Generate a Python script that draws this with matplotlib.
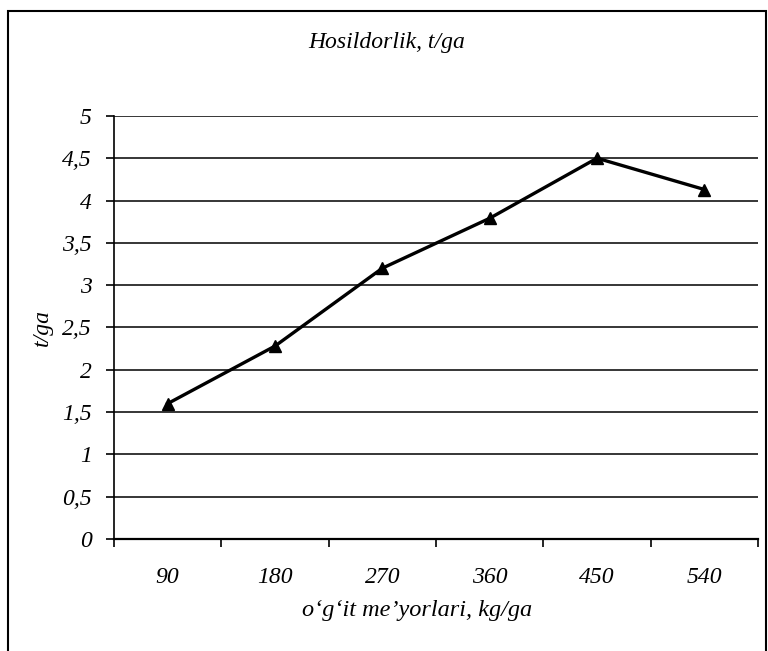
import matplotlib.pyplot as plt
from matplotlib.patches import Rectangle
import numpy as np

doses = ['90', '180', '270', '360', '450', '540']
yields = [1.6, 2.28, 3.2, 3.79, 4.5, 4.13]
y_ticks = [0, 0.5, 1, 1.5, 2, 2.5, 3, 3.5, 4, 4.5, 5]
y_tick_labels = ['0', '0,5', '1', '1,5', '2', '2,5', '3', '3,5', '4', '4,5', '5']

plt.rcParams['font.family'] = ['Liberation Serif', 'DejaVu Serif']
plt.rcParams['font.style'] = 'italic'

fig = plt.figure(figsize=(7.68, 6.51), dpi=100)
ax = fig.add_axes([0.1484, 0.172, 0.8386, 0.65])

x = np.arange(len(doses))
ax.plot(x, yields, color='black', lw=2.4, marker='^', markersize=8, zorder=3)

ax.set_xlim(-0.5, len(doses) - 0.5)
ax.set_ylim(0, 5)
ax.set_yticks(y_ticks)
ax.set_yticklabels(y_tick_labels, fontsize=17)
ax.set_xticks(np.arange(-0.5, len(doses), 1))
ax.set_xticklabels([])
ax.set_xticks(x, minor=True)
ax.set_xticklabels(doses, minor=True, fontsize=17)
ax.tick_params(axis='x', which='minor', length=0, pad=20)
ax.tick_params(axis='x', which='major', length=6, width=1.2, direction='out')
ax.tick_params(axis='y', length=6, width=1.2, direction='out', pad=10)

ax.yaxis.grid(True, color='black', lw=1.1)
ax.set_axisbelow(True)
for s in ['top', 'right']:
    ax.spines[s].set_visible(False)
ax.spines['left'].set_linewidth(1.2)
ax.spines['bottom'].set_linewidth(1.6)

ax.set_ylabel('t/ga', fontsize=17)
ax.yaxis.set_label_coords(-0.095, 0.5)
ax.set_xlabel("o‘g‘it me’yorlari, kg/ga", fontsize=17.5)
ax.xaxis.set_label_coords(0.47, -0.145)
fig.text(0.503, 0.935, 'Hosildorlik, t/ga', ha='center', va='center', fontsize=17)

fig.patches.append(Rectangle((8 / 768, -0.01), 758 / 768, 1 - 11 / 651 + 0.01,
                             transform=fig.transFigure, fill=False,
                             edgecolor='black', lw=1.5))

fig.savefig('out.png', dpi=100)
